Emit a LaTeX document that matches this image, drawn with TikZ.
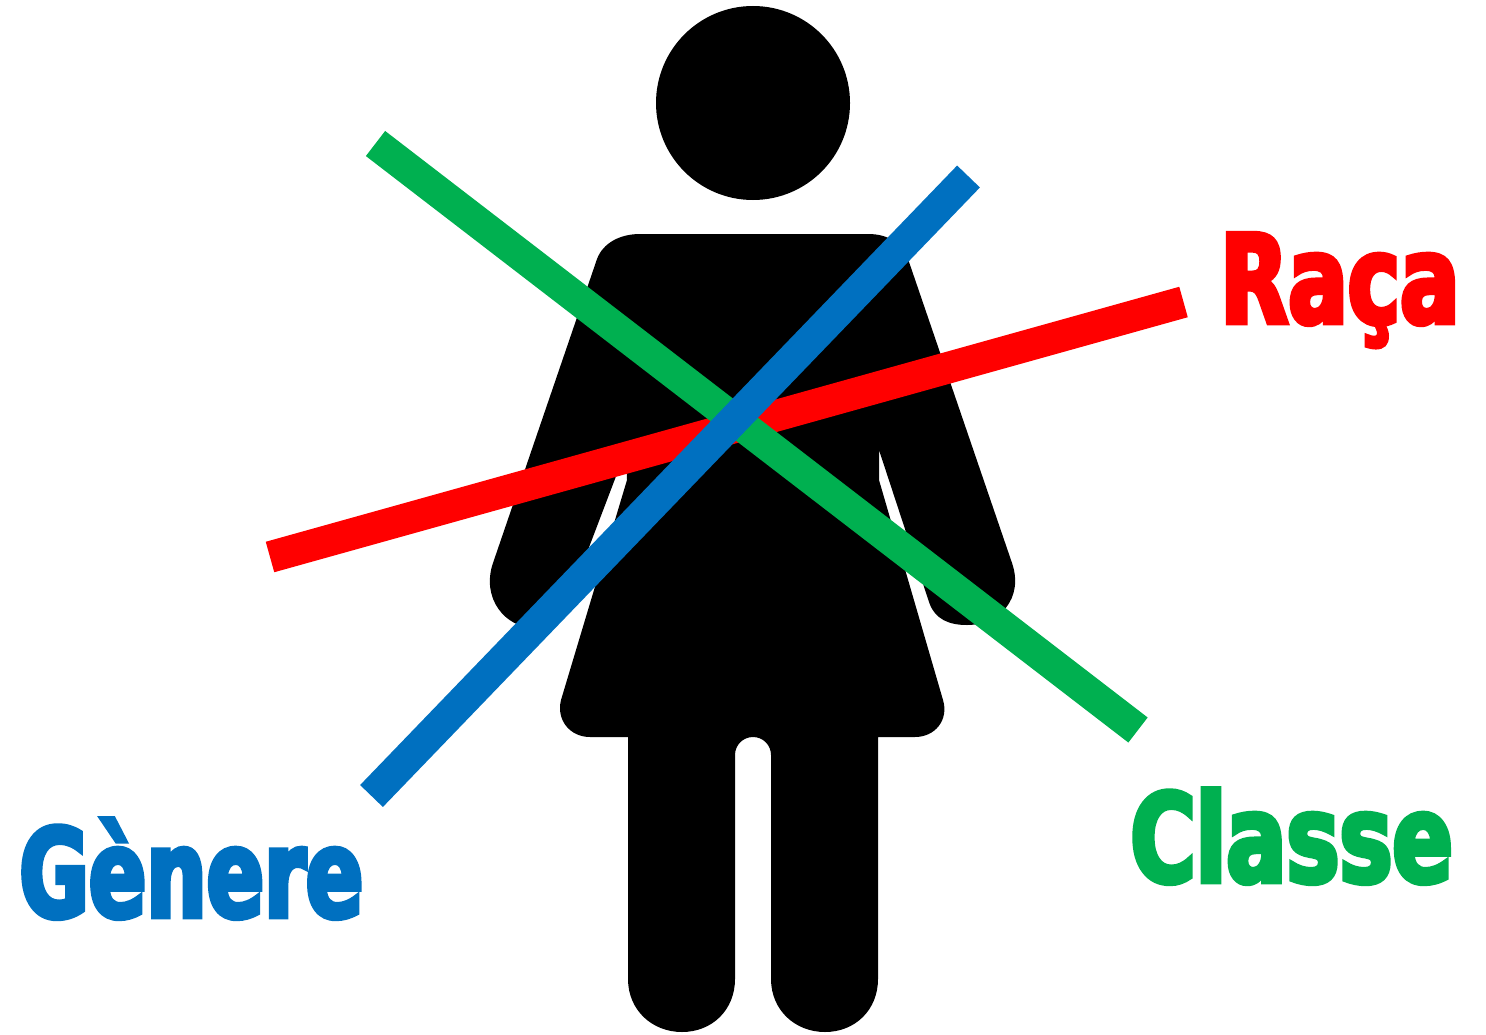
\documentclass[tikz,border=0pt]{standalone}
\usepackage{fontspec}
\newfontfamily\labelfont[FakeBold=4,FakeStretch=0.71]{DejaVu Sans Bold}
\definecolor{racered}{HTML}{FF0000}
\definecolor{classgreen}{HTML}{00B050}
\definecolor{genderblue}{HTML}{0070C0}
\tikzset{
  axisline/.style={line width=18pt},
  axislabel/.style={inner sep=0pt,font=\labelfont\fontsize{70}{70}\selectfont,anchor=base west}
}
\begin{document}
\begin{tikzpicture}[x=0.02cm,y=-0.02cm]
\useasboundingbox (0,0) rectangle (1486,1034);
% head
\fill (753,103) circle (97);
% body, arms, skirt and legs
\fill (640,234) -- (868,234) .. controls (888,234) and (902,243) .. (908,259)
  -- (1012,563) .. controls (1024,598) and (1000,625) .. (967,625)
  .. controls (950,625) and (935,620) .. (929,602) -- (879,450) -- (879,480)
  -- (943,700) .. controls (949,720) and (935,737) .. (915,737) -- (878,737)
  -- (878,979) .. controls (878,1010) and (855,1032) .. (825,1032)
  .. controls (795,1032) and (771,1010) .. (771,979) -- (771,755)
  .. controls (771,745) and (763,737) .. (753,737)
  .. controls (743,737) and (735,745) .. (735,755) -- (735,979)
  .. controls (735,1010) and (712,1032) .. (682,1032)
  .. controls (652,1032) and (628,1010) .. (628,979) -- (628,737) -- (590,737)
  .. controls (570,737) and (556,720) .. (561,700) -- (627,480) -- (626,450)
  -- (572,592) .. controls (565,612) and (552,628) .. (535,628)
  .. controls (505,628) and (481,598) .. (493,563) -- (597,259)
  .. controls (603,243) and (620,234) .. (640,234) -- cycle;
% crossing lines
\coordinate (raceL) at (270,557);
\coordinate (raceR) at (1183.5,302);
\coordinate (classL) at (375.5,143.5);
\coordinate (classR) at (1138,730);
\coordinate (genderL) at (371.5,796);
\coordinate (genderR) at (968.5,176.5);
\draw[axisline,racered] (raceL) -- (raceR);
\draw[axisline,classgreen] (classL) -- (classR);
\draw[axisline,genderblue] (genderL) -- (genderR);
% labels
\node[axislabel,racered] (race) at (1220,323) {\scalebox{1.01}[1]{Raça}};
\node[axislabel,classgreen] (class) at (1130,882) {\scalebox{1.02}[1]{Classe}};
\node[axislabel,genderblue] (gender) at (19,917) {\scalebox{0.97}[1]{Gènere}};
\end{tikzpicture}
\end{document}
